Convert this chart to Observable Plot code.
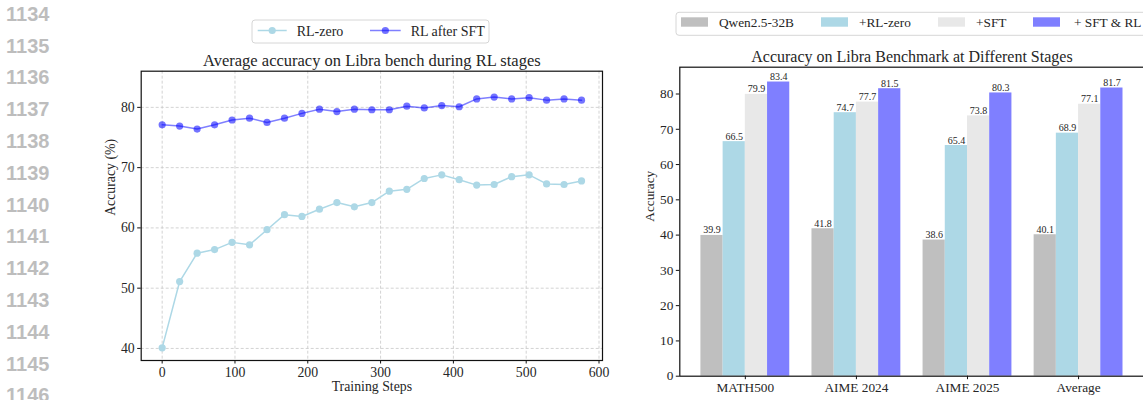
<!DOCTYPE html>
<html><head><meta charset="utf-8">
<script src="https://cdn.jsdelivr.net/npm/d3@7"></script>
<script src="https://cdn.jsdelivr.net/npm/@observablehq/plot@0.6"></script>
<style>
html,body{margin:0;padding:0;background:#fff;}
#page{position:relative;width:1143px;height:400px;overflow:hidden;background:#fff;}
.ln{position:absolute;left:6px;font-family:"Liberation Sans",Arial,sans-serif;font-size:20px;font-weight:bold;color:#bdbdbd;line-height:20px;}
.abs{position:absolute;top:0;}
</style></head><body><div id="page"></div>
<script>
// ---------- data ----------
const lineNumbers = [1134,1135,1136,1137,1138,1139,1140,1141,1142,1143,1144,1145,1146];

const steps = [0,24,48,72,96,120,144,168,192,216,240,264,288,312,336,360,384,408,432,456,480,504,528,552,576];
const rlZero = [40.1,51.1,55.8,56.4,57.6,57.2,59.7,62.2,61.9,63.1,64.2,63.5,64.2,66.1,66.4,68.2,68.8,68.0,67.1,67.2,68.5,68.8,67.3,67.2,67.8];
const rlAfterSft = [77.1,76.9,76.4,77.1,77.9,78.2,77.5,78.2,79.0,79.7,79.3,79.7,79.6,79.6,80.2,79.9,80.3,80.1,81.4,81.7,81.4,81.6,81.2,81.4,81.2];
const lineSeries = ["RL-zero","RL after SFT"];
const lineXTicks = [0,100,200,300,400,500,600];
const lineYTicks = [40,50,60,70,80];

const benchmarks = ["MATH500","AIME 2024","AIME 2025","Average"];
const stages = ["Qwen2.5-32B","+RL-zero","+SFT","+ SFT & RL"];
const qwenBase = [39.9,41.8,38.6,40.1];
const rlZeroAcc = [66.5,74.7,65.4,68.9];
const sftAcc = [79.9,77.7,73.8,77.1];
const sftRlAcc = [83.4,81.5,80.3,81.7];
const barYTicks = [0,10,20,30,40,50,60,70,80];

const leftTitle = "Average accuracy on Libra bench during RL stages";
const rightTitle = "Accuracy on Libra Benchmark at Different Stages";

const stageColors = ["#bfbfbf","#add8e6","#e8e8e8","#7f7fff"];
const zeroColor = "#add8e6";
const sftColor = "blue";

// ---------- page ----------
const page = document.getElementById("page");
lineNumbers.forEach((n,k)=>{
  const d = document.createElement("div");
  d.className = "ln";
  d.textContent = n;
  d.style.top = (13.7 + 31.8*k - 10) + "px";
  page.appendChild(d);
});

const serif = "'Liberation Serif','Times New Roman',serif";
const ink = "#262626";

// ---------- left line chart ----------
const zeroData = steps.map((s,i)=>({step:s, acc:rlZero[i]}));
const sftData = steps.map((s,i)=>({step:s, acc:rlAfterSft[i]}));

const left = Plot.plot({
  width: 600, height: 400,
  marginLeft: 80.7, marginRight: 58, marginTop: 70.7, marginBottom: 40,
  style: `max-width:none;overflow:visible;background:transparent;font-family:${serif};font-size:13.8px;color:${ink};`,
  x: {domain: [-28.8, 604.8]},
  y: {domain: [38, 86]},
  marks: [
    Plot.gridX(lineXTicks, {stroke:"#c8c8c8", strokeOpacity:1, strokeDasharray:"3,2", strokeWidth:0.8}),
    Plot.gridY(lineYTicks, {stroke:"#c8c8c8", strokeOpacity:1, strokeDasharray:"3,2", strokeWidth:0.8}),
    Plot.line(zeroData, {x:"step", y:"acc", stroke:zeroColor, strokeWidth:1.5}),
    Plot.dot(zeroData, {x:"step", y:"acc", r:3.6, fill:zeroColor, stroke:null}),
    Plot.line(sftData, {x:"step", y:"acc", stroke:sftColor, strokeOpacity:0.5, strokeWidth:1.5}),
    Plot.dot(sftData, {x:"step", y:"acc", r:3.6, fill:sftColor, fillOpacity:0.55, stroke:null}),
    Plot.frame({stroke:"#111", strokeWidth:1.2}),
    Plot.axisX(lineXTicks, {tickSize:3.5, tickPadding:3, label:null, stroke:"#111"}),
    Plot.axisY(lineYTicks, {tickSize:3.5, tickPadding:3, label:null, stroke:"#111"}),
    Plot.text([leftTitle], {frameAnchor:"top", lineAnchor:"bottom", dy:-5, fontSize:16.5}),
    Plot.text(["Training Steps"], {frameAnchor:"bottom", lineAnchor:"middle", dy:26}),
    Plot.text(["Accuracy (%)"], {frameAnchor:"left", rotate:-90, dx:-31})
  ]
});
left.classList.add("abs");
left.style.left = "60px";
page.appendChild(left);

// ---------- right bar chart ----------
const values = [qwenBase, rlZeroAcc, sftAcc, sftRlAcc];
const rows = [];
benchmarks.forEach((b,i)=>{
  stages.forEach((s,j)=>{
    rows.push({bench:b, stage:s, value:values[j][i], x1:i-0.4+0.2*j, x2:i-0.2+0.2*j});
  });
});

const right = Plot.plot({
  width: 530, height: 400,
  marginLeft: 59.3, marginRight: 6.4, marginTop: 66.7, marginBottom: 24.3,
  style: `max-width:none;overflow:visible;background:transparent;font-family:${serif};font-size:13.3px;color:${ink};`,
  x: {domain: [-0.59, 3.59]},
  y: {domain: [0, 87.6]},
  color: {domain: stages, range: stageColors},
  marks: [
    Plot.rect(rows, {x1:"x1", x2:"x2", y1:d=>0, y2:"value", fill:"stage"}),
    Plot.text(rows, {x:d=>(d.x1+d.x2)/2, y:"value", text:d=>d.value.toFixed(1), lineAnchor:"bottom", dy:-2, fontSize:10, fill:ink}),
    Plot.frame({stroke:"#111", strokeWidth:1.2}),
    Plot.axisX([0,1,2,3], {tickSize:3.5, tickPadding:3, label:null, tickFormat:i=>benchmarks[i], stroke:"#111"}),
    Plot.axisY(barYTicks, {tickSize:3.5, tickPadding:3, label:null, stroke:"#111"}),
    Plot.text([rightTitle], {frameAnchor:"top", lineAnchor:"bottom", dy:-5, fontSize:16}),
    Plot.text(["Accuracy"], {frameAnchor:"left", rotate:-90, dx:-30})
  ]
});
right.classList.add("abs");
right.style.left = "620px";
page.appendChild(right);

// ---------- legends ----------
const leg = d3.select(page).append("svg")
  .attr("width",1143).attr("height",60)
  .style("position","absolute").style("left","0px").style("top","0px")
  .style("font-family", serif).attr("fill", ink);

// left legend
leg.append("rect").attr("x",252).attr("y",20).attr("width",237).attr("height",23).attr("rx",3)
  .attr("fill","#fff").attr("stroke","#d6d6d6").attr("stroke-width",1);
const lItems = [
  {label:lineSeries[0], x0:257.7, x1:286.7, tx:296.7, color:zeroColor, op:1},
  {label:lineSeries[1], x0:370, x1:400.7, tx:410.7, color:sftColor, op:0.5}
];
lItems.forEach(it=>{
  leg.append("line").attr("x1",it.x0).attr("x2",it.x1).attr("y1",30.5).attr("y2",30.5)
    .attr("stroke",it.color).attr("stroke-opacity",it.op).attr("stroke-width",1.5);
  leg.append("circle").attr("cx",(it.x0+it.x1)/2).attr("cy",30.5).attr("r",3.6)
    .attr("fill",it.color).attr("fill-opacity",it.op===1?1:0.55);
  leg.append("text").attr("x",it.tx).attr("y",35.5).attr("font-size","14px").text(it.label);
});

// right legend
leg.append("rect").attr("x",676).attr("y",12.3).attr("width",500).attr("height",23).attr("rx",3)
  .attr("fill","#fff").attr("stroke","#d6d6d6").attr("stroke-width",1);
const px = [681,821,938,1033], tx = [719,859,976,1074];
stages.forEach((s,j)=>{
  leg.append("rect").attr("x",px[j]).attr("y",17.3).attr("width",27).attr("height",9.4).attr("fill",stageColors[j]);
  leg.append("text").attr("x",tx[j]).attr("y",27.4).attr("font-size","13.3px").text(s);
});
</script>
</body></html>
